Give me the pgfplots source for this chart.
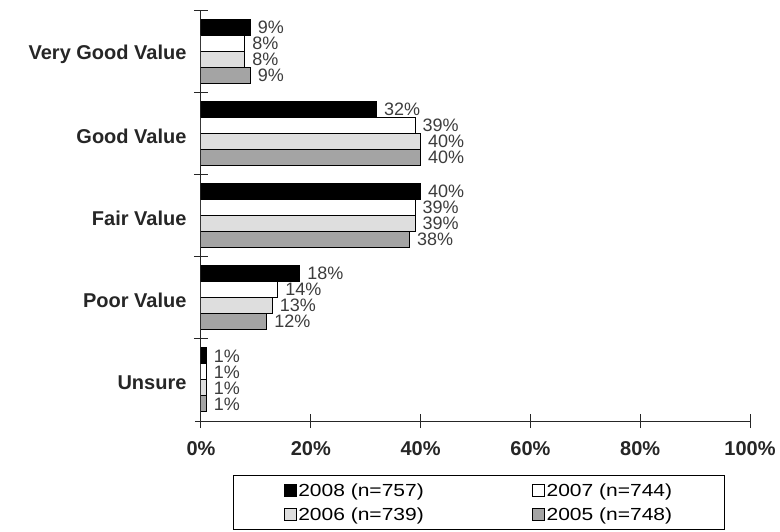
\documentclass[border=0pt]{standalone}
\usepackage{pgfplots}
\usepackage{pgfplotstable}
\pgfplotsset{compat=1.18}
\usepackage{fontspec}
\setmainfont{Liberation Sans}
\newfontfamily\legfont[FakeStretch=1.2]{Liberation Sans}

\definecolor{lgray}{HTML}{DEDEDE}
\definecolor{mgray}{HTML}{A4A4A4}
\definecolor{labgray}{HTML}{3C3C3C}

% rating (4 = Very Good Value ... 0 = Unsure), percent per survey year
\pgfplotstableread{
cat y2008 y2007 y2006 y2005
4   9     8     8     9
3   32    39    40    40
2   40    39    39    38
1   18    14    13    12
0   1     1     1     1
}\ratings

\begin{document}
\begin{tikzpicture}
\useasboundingbox (0,0) rectangle (780pt,531pt);
\begin{axis}[
  at={(201pt,110pt)}, anchor=south west,
  scale only axis, width=549pt, height=411pt,
  xbar, bar width=16pt,
  xmin=0, xmax=100, ymin=-0.5, ymax=4.5,
  axis x line=bottom, axis y line=left,
  axis line style={-, line width=1pt, black!85},
  x axis line style={shorten <=-6pt},
  tick align=center, major tick length=14pt,
  tick style={line width=1pt, black!85},
  xtick={0,20,...,100},
  xticklabel={\pgfmathprintnumber{\tick}\%},
  /pgf/number format/assume math mode=true,
  xticklabel style={font=\fontsize{20}{24}\selectfont\bfseries, text=black!85, yshift=-10pt},
  ytick={0.5,1.5,...,4.5},
  yticklabels={},
  extra y ticks={0,1,2,3,4},
  extra y tick labels={Unsure, Poor Value, Fair Value, Good Value, Very Good Value},
  extra y tick style={major tick length=0pt,
    yticklabel style={font=\fontsize{20}{24}\selectfont\bfseries, text=black!85, xshift=-11pt, yshift=-3pt}},
  point meta=x,
  nodes near coords={\pgfmathprintnumber{\pgfplotspointmeta}\%},
  nodes near coords style={font=\fontsize{18}{20}\selectfont, text=labgray, anchor=west, inner sep=1pt, xshift=6pt},
  legend columns=2,
  legend cell align=left,
  legend image code/.code={\draw[#1, line width=0.8pt] (0pt,-6pt) rectangle (12pt,6pt);},
  legend style={at={(0.0583,-0.131)}, anchor=north west, draw=black, line width=1pt, fill=white,
    font=\legfont\fontsize{17.5}{20}\selectfont, inner xsep=50pt, inner ysep=6pt, row sep=6pt,
    /tikz/every even column/.append style={column sep=106pt}},
]
\addplot[fill=black, draw=black, line width=1pt, bar shift=24pt] table[x=y2008, y=cat]{\ratings};
\addplot[fill=white, draw=black, line width=1pt, bar shift=8pt] table[x=y2007, y=cat]{\ratings};
\addplot[fill=lgray, draw=black, line width=1pt, bar shift=-8pt] table[x=y2006, y=cat]{\ratings};
\addplot[fill=mgray, draw=black, line width=1pt, bar shift=-24pt] table[x=y2005, y=cat]{\ratings};
\legend{2008 (n=757), 2007 (n=744), 2006 (n=739), 2005 (n=748)}
\end{axis}
\end{tikzpicture}
\end{document}
